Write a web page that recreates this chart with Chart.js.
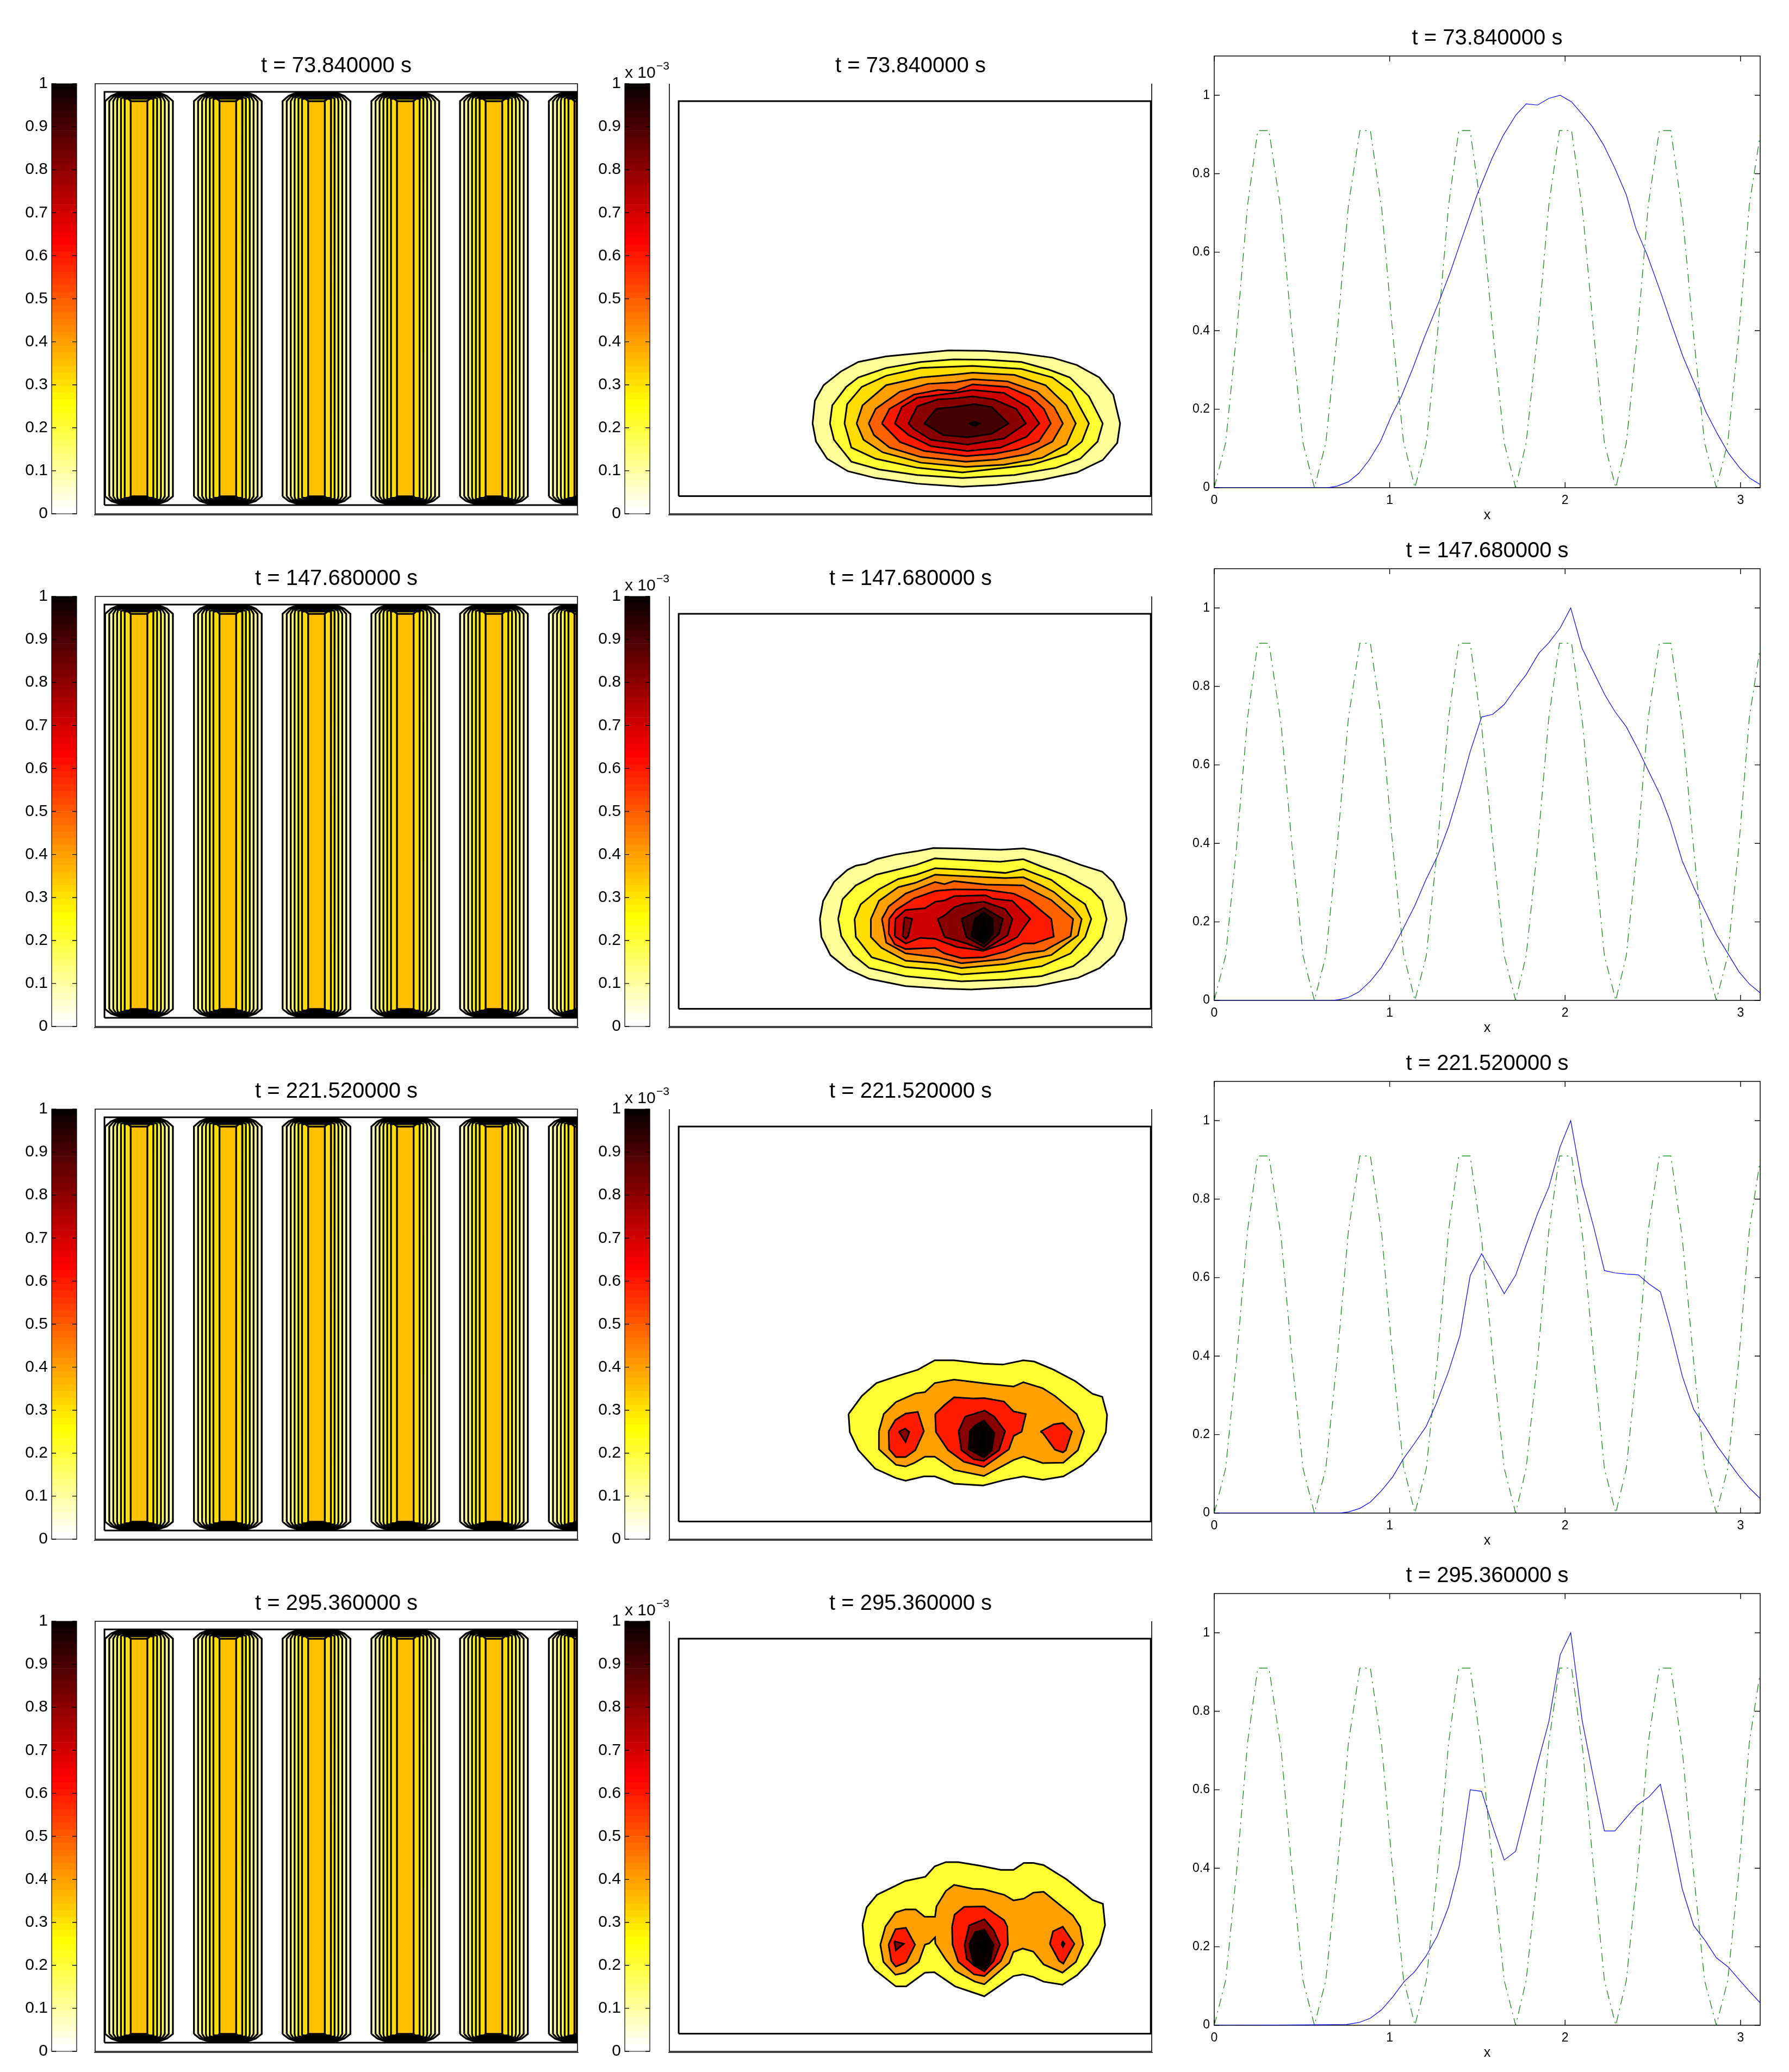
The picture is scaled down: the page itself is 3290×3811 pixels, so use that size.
<!DOCTYPE html>
<html>
<head>
<meta charset="utf-8">
<title>Contours and profiles</title>
<script src="https://cdn.jsdelivr.net/npm/chart.js@4"></script>
<style>
  html, body { margin: 0; background: #fff; }
  #page { position: relative; width: 3290px; height: 3811px; overflow: hidden; background: #fff; }
  canvas { position: absolute; }
</style>
</head>
<body>
<div id="page"></div>
<script>
// --- data ---
const titles = ['t = 73.840000 s', 't = 147.680000 s', 't = 221.520000 s', 't = 295.360000 s'];
const barTicks = [0, 0.1, 0.2, 0.3, 0.4, 0.5, 0.6, 0.7, 0.8, 0.9, 1];
const lineXTicks = [0, 1, 2, 3];
const lineYTicks = [0, 0.2, 0.4, 0.6, 0.8, 1];

// reversed "hot" colour map, bottom of the bar first
const hotColors = [
  '#ffffff', '#ffffef', '#ffffdf', '#ffffcf', '#ffffbf', '#ffffaf', '#ffff9f', '#ffff8f',
  '#ffff80', '#ffff70', '#ffff60', '#ffff50', '#ffff40', '#ffff30', '#ffff20', '#ffff10',
  '#ffff00', '#fff400', '#ffea00', '#ffdf00', '#ffd500', '#ffca00', '#ffbf00', '#ffb500',
  '#ffaa00', '#ff9f00', '#ff9500', '#ff8a00', '#ff8000', '#ff7500', '#ff6a00', '#ff6000',
  '#ff5500', '#ff4a00', '#ff4000', '#ff3500', '#ff2a00', '#ff2000', '#ff1500', '#ff0b00',
  '#ff0000', '#f40000', '#ea0000', '#df0000', '#d50000', '#ca0000', '#bf0000', '#b50000',
  '#aa0000', '#9f0000', '#950000', '#8a0000', '#800000', '#750000', '#6a0000', '#600000',
  '#550000', '#4a0000', '#400000', '#350000', '#2a0000', '#200000', '#150000', '#0b0000'
];

// green reference curve on the right hand plots
const shapeX = [0, .065, .127, .19, .248, .312, .381, .444, .506, .571, .636, .7, .765, .83, .89, .955, 1.018, 1.078, 1.144,
  1.209, 1.272, 1.336, 1.394, 1.459, 1.524, 1.59, 1.653, 1.718, 1.778, 1.843, 1.907, 1.968, 2.037, 2.101, 2.164, 2.224, 2.289,
  2.349, 2.412, 2.474, 2.537, 2.603, 2.668, 2.732, 2.795, 2.862, 2.927, 2.99, 3.05, 3.112];
const shapeY = [0, .114, .39, .72, .91, .91, .704, .39, .114, 0, .114, .39, .72, .91, .91, .71, .39, .12, 0,
  .114, .39, .72, .91, .91, .7, .39, .114, 0, .114, .39, .72, .91, .91, .7, .39, .114, 0,
  .114, .39, .72, .91, .91, .7, .39, .114, 0, .114, .39, .72, .9];

// blue profile, one x/y pair of lists per row
const profileX1 = [0, .647, .7, .765, .825, .884, .948, 1.013, 1.067, 1.131, 1.196, 1.282, 1.347, 1.412, 1.498, 1.584, 1.649, 1.72,
  1.778, 1.843, 1.907, 1.972, 2.037, 2.101, 2.155, 2.22, 2.284, 2.349, 2.403, 2.468, 2.543, 2.608, 2.672, 2.748, 2.802, 2.866, 2.931, 2.996, 3.05, 3.112];
const profileY1 = [0, 0, .004, .015, .037, .071, .118, .186, .233, .303, .381, .475, .551, .636, .746, .84, .899, .95,
  .978, .975, .992, 1, .983, .95, .92, .873, .814, .746, .661, .593, .5, .415, .334, .254, .194, .139, .088, .05, .025, .008];
const profileX2 = [0, .675, .711, .761, .823, .89, .953, 1.017, 1.078, 1.142, 1.207, 1.272, 1.336, 1.401, 1.459, 1.524, 1.588, 1.653, 1.724,
  1.778, 1.851, 1.907, 1.972, 2.032, 2.097, 2.162, 2.226, 2.284, 2.349, 2.418, 2.478, 2.543, 2.597, 2.668, 2.733, 2.802, 2.862, 2.927, 2.991, 3.05, 3.112];
const profileY2 = [0, 0, .002, .007, .021, .049, .084, .132, .184, .24, .308, .367, .443, .539, .634, .722, .729, .754, .799,
  .83, .885, .911, .949, 1, .897, .837, .779, .736, .697, .638, .582, .523, .459, .355, .288, .224, .168, .12, .073, .042, .019];
const profileX3 = [0, .711, .765, .83, .89, .953, 1.017, 1.078, 1.142, 1.207, 1.265, 1.336, 1.401, 1.459, 1.524, 1.588, 1.653, 1.718,
  1.778, 1.843, 1.907, 1.972, 2.032, 2.097, 2.162, 2.224, 2.284, 2.349, 2.418, 2.478, 2.543, 2.597, 2.668, 2.733, 2.802, 2.862, 2.927, 2.991, 3.05, 3.112];
const profileY3 = [0, 0, .003, .012, .028, .057, .092, .138, .178, .22, .278, .361, .453, .605, .661, .612, .559, .606,
  .683, .763, .83, .934, 1, .838, .731, .618, .612, .609, .607, .584, .564, .477, .349, .264, .218, .174, .134, .095, .064, .037];
const profileX4 = [0, .485, .754, .825, .89, .953, 1.017, 1.084, 1.142, 1.207, 1.272, 1.336, 1.397, 1.459, 1.524, 1.588, 1.653, 1.718,
  1.778, 1.843, 1.907, 1.972, 2.032, 2.097, 2.162, 2.224, 2.284, 2.349, 2.409, 2.478, 2.543, 2.597, 2.668, 2.733, 2.798, 2.862, 2.931, 3, 3.056, 3.112];
const profileY4 = [0, .001, .002, .007, .018, .039, .072, .112, .136, .176, .228, .302, .407, .6, .596, .506, .421, .443,
  .55, .666, .773, .944, 1, .777, .63, .495, .495, .529, .56, .582, .614, .506, .347, .254, .216, .172, .148, .112, .084, .057];

// rods in the left hand panels: centres, nested half widths, top and bottom of each nested contour
const rodCentres = [.283, .856, 1.428, 2.001, 2.573, 3.146];
const rodHalfWidths = [.2186, .1919, .166, .1414, .1168, .0923, .0537];
const rodCapHalfWidths = [.125, .122, .119, .116, .1, .08, .05];
const rodTops = [.9798, .977, .974, .971, .968, .965, .9595];
const rodBottoms = [.0228, .0255, .028, .031, .034, .037, .0405];
const rodShoulders = [.0405, .9595];
const rodLevels = [0, 1, 2, 3, 4, 5, 6];

// walls, left hand and middle panels: [x0, y0, x1, y1]
const coreBox = [.06, .0202, 3.106, .981];
const fluxBox = [.06, .0411, 3.106, .9595];

// filled contours in the middle panels, outermost first: [x, y] vertices and the level of each
const row1Levels = [7, 8, 9, 10, 11, 12, 13, 14, 15, 16];
const row1Contours = [
  [[.924,.21],[.939,.263],[.995,.299],[1.107,.331],[1.219,.353],[1.398,.366],[1.599,.373],[1.801,.38],[2.036,.379],[2.248,.374],[2.472,.363],[2.629,.346],[2.774,.317],[2.864,.277],[2.908,.21],[2.89,.165],[2.796,.125],[2.629,.096],[2.405,.079],[2.114,.067],[1.89,.063],[1.599,.07],[1.331,.083],[1.152,.099],[1.018,.128],[.946,.168]],
  [[1.036,.21],[1.051,.252],[1.141,.295],[1.219,.317],[1.398,.339],[1.622,.353],[1.834,.359],[2.047,.358],[2.271,.353],[2.45,.335],[2.584,.317],[2.707,.273],[2.796,.21],[2.763,.168],[2.651,.128],[2.495,.107],[2.226,.09],[1.89,.083],[1.599,.09],[1.353,.103],[1.174,.121],[1.062,.172]],
  [[1.13,.21],[1.147,.255],[1.241,.295],[1.398,.321],[1.622,.339],[1.957,.344],[2.271,.337],[2.472,.317],[2.595,.284],[2.707,.21],[2.662,.168],[2.562,.139],[2.338,.114],[1.89,.096],[1.599,.107],[1.331,.128],[1.174,.154]],
  [[1.208,.21],[1.246,.252],[1.398,.299],[1.622,.317],[1.846,.324],[1.957,.328],[2.226,.323],[2.427,.299],[2.562,.252],[2.622,.21],[2.562,.161],[2.405,.13],[2.159,.114],[1.913,.109],[1.622,.119],[1.376,.143],[1.253,.172]],
  [[1.286,.21],[1.331,.244],[1.487,.284],[1.666,.302],[1.846,.306],[1.957,.313],[2.181,.308],[2.371,.284],[2.483,.248],[2.539,.21],[2.472,.168],[2.315,.139],[2.114,.126],[1.913,.121],[1.622,.132],[1.42,.154],[1.32,.183]],
  [[1.371,.21],[1.42,.244],[1.577,.277],[1.734,.288],[1.846,.286],[1.957,.301],[2.181,.295],[2.327,.273],[2.416,.244],[2.461,.21],[2.383,.168],[2.248,.15],[2.092,.139],[1.913,.134],[1.644,.146],[1.487,.167]],
  [[1.454,.21],[1.499,.248],[1.599,.27],[1.834,.281],[1.957,.288],[2.159,.281],[2.315,.248],[2.387,.21],[2.304,.179],[2.136,.154],[1.924,.146],[1.689,.157],[1.543,.183]],
  [[1.543,.21],[1.599,.25],[1.734,.266],[1.834,.268],[1.957,.273],[2.092,.266],[2.237,.244],[2.3,.21],[2.159,.175],[1.924,.161],[1.689,.172],[1.577,.197]],
  [[1.644,.21],[1.722,.244],[1.834,.248],[1.969,.255],[2.08,.248],[2.188,.21],[2.08,.186],[1.924,.178],[1.767,.183]],
  [[1.935,.21],[1.969,.214],[2.002,.21],[1.969,.204]]
];

const row2Levels = [7, 8, 9, 10, 11, 12, 13, 14, 14, 15, 16, 17];
const row2Contours = [
  [[.971,.25],[.992,.292],[1.062,.336],[1.148,.364],[1.203,.374],[1.266,.378],[1.336,.389],[1.462,.4],[1.603,.408],[1.704,.415],[1.869,.414],[2.135,.411],[2.284,.414],[2.354,.41],[2.511,.395],[2.652,.376],[2.793,.36],[2.863,.336],[2.934,.288],[2.95,.25],[2.926,.204],[2.871,.166],[2.777,.136],[2.636,.113],[2.37,.094],[2.166,.09],[1.947,.086],[1.775,.088],[1.524,.094],[1.289,.111],[1.148,.134],[1.039,.166],[.981,.208]],
  [[1.089,.25],[1.117,.296],[1.203,.328],[1.336,.353],[1.462,.364],[1.595,.376],[1.712,.391],[1.931,.387],[2.135,.383],[2.284,.389],[2.401,.372],[2.558,.351],[2.722,.319],[2.793,.292],[2.821,.25],[2.793,.208],[2.699,.166],[2.605,.14],[2.401,.117],[2.166,.109],[1.884,.105],[1.759,.109],[1.524,.117],[1.289,.136],[1.187,.166],[1.109,.21]],
  [[1.195,.25],[1.234,.284],[1.352,.319],[1.477,.343],[1.595,.353],[1.715,.368],[1.931,.364],[2.166,.357],[2.284,.366],[2.464,.341],[2.605,.303],[2.683,.284],[2.722,.25],[2.683,.208],[2.589,.17],[2.401,.14],[2.166,.128],[1.884,.121],[1.728,.132],[1.524,.138],[1.305,.161],[1.203,.208]],
  [[1.3,.25],[1.352,.292],[1.477,.324],[1.587,.334],[1.715,.353],[1.931,.349],[2.166,.345],[2.284,.347],[2.401,.328],[2.48,.313],[2.605,.275],[2.66,.25],[2.636,.212],[2.464,.166],[2.284,.153],[2.166,.145],[1.884,.136],[1.728,.147],[1.524,.153],[1.368,.183],[1.3,.208]],
  [[1.371,.25],[1.415,.279],[1.524,.309],[1.715,.336],[1.775,.331],[1.837,.338],[2.041,.33],[2.284,.328],[2.37,.311],[2.464,.294],[2.605,.25],[2.589,.21],[2.417,.176],[2.284,.17],[2.166,.157],[1.884,.147],[1.728,.161],[1.524,.17],[1.399,.195]],
  [[1.418,.25],[1.462,.271],[1.579,.298],[1.715,.315],[1.837,.319],[2.041,.318],[2.221,.309],[2.323,.292],[2.464,.25],[2.48,.209],[2.354,.193],[2.284,.193],[2.166,.174],[2.025,.161],[1.884,.159],[1.775,.17],[1.712,.183],[1.524,.18],[1.454,.191],[1.415,.216]],
  [[1.454,.21],[1.458,.25],[1.524,.271],[1.649,.275],[1.715,.29],[1.775,.293],[1.837,.303],[2.041,.305],[2.088,.297],[2.213,.292],[2.328,.25],[2.284,.229],[2.245,.208],[2.166,.193],[2.025,.176],[1.853,.185],[1.712,.204],[1.618,.206],[1.524,.193]],
  [[1.516,.254],[1.566,.25],[1.54,.21],[1.524,.204],[1.505,.21]],
  [[1.731,.25],[1.775,.258],[1.837,.277],[1.9,.285],[2.029,.29],[2.166,.273],[2.213,.25],[2.182,.212],[2.088,.191],[2.029,.178],[1.9,.195],[1.775,.208]],
  [[1.884,.25],[2.029,.276],[2.151,.25],[2.127,.216],[2.029,.185],[1.916,.208]],
  [[1.971,.25],[2.029,.265],[2.085,.25],[2.088,.216],[2.029,.193],[1.947,.21]],
  [[2.029,.248],[2.065,.204],[2.029,.195],[1.986,.204]]
];

const row3Levels = [8, 10, 12, 14, 12, 14, 16, 17, 12];
const row3Contours = [
  [[1.156,.291],[1.242,.333],[1.336,.363],[1.477,.38],[1.603,.394],[1.712,.416],[1.837,.416],[2.025,.408],[2.151,.406],[2.284,.416],[2.354,.413],[2.48,.394],[2.621,.367],[2.73,.338],[2.793,.331],[2.824,.289],[2.816,.249],[2.762,.207],[2.668,.173],[2.542,.146],[2.409,.138],[2.284,.146],[2.166,.138],[2.025,.125],[1.837,.129],[1.712,.146],[1.642,.146],[1.524,.136],[1.462,.142],[1.328,.164],[1.219,.207],[1.164,.249]],
  [[1.352,.251],[1.383,.291],[1.462,.319],[1.587,.339],[1.649,.342],[1.712,.363],[1.837,.371],[2.088,.36],[2.221,.355],[2.284,.365],[2.409,.351],[2.488,.333],[2.628,.291],[2.676,.251],[2.636,.207],[2.542,.178],[2.409,.177],[2.284,.192],[2.221,.184],[2.029,.147],[1.837,.161],[1.712,.192],[1.649,.192],[1.579,.177],[1.524,.169],[1.462,.173],[1.352,.209]],
  [[1.415,.251],[1.458,.277],[1.524,.292],[1.603,.296],[1.642,.251],[1.587,.207],[1.524,.191],[1.462,.191],[1.418,.209]],
  [[1.48,.25],[1.521,.257],[1.548,.249],[1.524,.226]],
  [[1.715,.291],[1.775,.312],[1.837,.33],[1.963,.327],[2.033,.328],[2.159,.32],[2.221,.297],[2.3,.291],[2.273,.25],[2.221,.24],[2.19,.209],[2.029,.168],[1.9,.18],[1.798,.207],[1.72,.249]],
  [[1.908,.285],[2.033,.299],[2.096,.285],[2.166,.251],[2.127,.207],[2.029,.182],[1.963,.186],[1.884,.207],[1.866,.251]],
  [[1.939,.251],[1.971,.264],[2.029,.276],[2.096,.247],[2.08,.207],[2.029,.19],[1.931,.209]],
  [[2.025,.255],[2.041,.25],[2.038,.205],[2.002,.208],[2.01,.25]],
  [[2.394,.25],[2.48,.267],[2.539,.27],[2.597,.25],[2.558,.207],[2.539,.202],[2.488,.208],[2.409,.247]]
];

const row4Levels = [8, 10, 12, 14, 12, 14, 16, 17, 12, 17];
const row4Contours = [
  [[1.246,.295],[1.273,.335],[1.34,.364],[1.522,.396],[1.652,.406],[1.712,.43],[1.784,.44],[1.864,.44],[1.998,.432],[2.139,.422],[2.22,.422],[2.287,.438],[2.348,.438],[2.415,.433],[2.562,.4],[2.73,.352],[2.797,.343],[2.811,.293],[2.777,.248],[2.697,.202],[2.63,.177],[2.536,.155],[2.415,.162],[2.348,.173],[2.28,.179],[2.22,.175],[2.032,.128],[1.844,.151],[1.71,.184],[1.649,.183],[1.528,.151],[1.461,.151],[1.327,.189],[1.287,.208],[1.257,.248]],
  [[1.361,.248],[1.394,.29],[1.459,.323],[1.522,.33],[1.589,.33],[1.647,.313],[1.714,.313],[1.723,.337],[1.784,.373],[1.837,.387],[1.958,.378],[2.025,.377],[2.16,.364],[2.22,.351],[2.287,.355],[2.348,.369],[2.415,.371],[2.603,.316],[2.65,.29],[2.67,.248],[2.623,.208],[2.536,.183],[2.415,.202],[2.348,.232],[2.28,.239],[2.22,.231],[2.193,.206],[2.032,.156],[1.972,.162],[1.844,.187],[1.784,.213],[1.716,.251],[1.714,.265],[1.676,.251],[1.649,.248],[1.609,.208],[1.522,.183],[1.459,.178],[1.381,.208]],
  [[1.414,.248],[1.459,.284],[1.526,.287],[1.585,.248],[1.528,.207],[1.461,.197],[1.432,.21]],
  [[1.451,.256],[1.512,.25],[1.461,.235]],
  [[1.824,.29],[1.84,.318],[1.902,.336],[2.032,.337],[2.16,.305],[2.18,.29],[2.184,.248],[2.139,.21],[2.032,.175],[1.965,.179],[1.864,.208],[1.827,.248]],
  [[1.904,.248],[1.935,.293],[2.032,.307],[2.092,.282],[2.133,.248],[2.092,.21],[2.032,.186],[1.965,.2],[1.918,.215]],
  [[1.934,.248],[1.972,.277],[2.032,.283],[2.092,.248],[2.066,.206],[2.032,.192],[1.965,.2]],
  [[1.982,.248],[2.032,.257],[2.055,.248],[2.032,.223]],
  [[2.455,.25],[2.475,.279],[2.538,.29],[2.613,.25],[2.542,.204],[2.515,.21]],
  [[2.529,.25],[2.539,.255],[2.55,.25],[2.539,.243]]
];

// --- styles and layout ---
const FONT = '"Liberation Sans", Arial, sans-serif';
const rodFills = ['#ffffc4', '#ffff9a', '#ffff66', '#ffff33', '#ffee00', '#ffdd00', '#ffc000'];
const levelFills = { 7: '#ffff99', 8: '#ffff33', 9: '#ffdd00', 10: '#ffa000', 11: '#ff6000', 12: '#ff1a00', 13: '#cc0000', 14: '#880000', 15: '#440000', 16: '#0a0000', 17: '#000000' };
const ROW_STEP = 942.8;
const page = document.getElementById('page');

Chart.defaults.font.family = FONT;
Chart.defaults.color = '#000';

function drawFrame(chart, opts) {
  const { ctx, chartArea: a, scales } = chart;
  ctx.save();
  ctx.strokeStyle = '#000';
  ctx.lineWidth = opts.lineWidth || 1.6;
  ctx.beginPath();
  ctx.moveTo(a.left, a.top);
  ctx.lineTo(a.left, a.bottom);
  ctx.lineTo(a.right, a.bottom);
  ctx.lineTo(a.right, a.top);
  if (!opts.openTop) ctx.closePath();
  ctx.stroke();
  if (opts.doubleBase) {
    ctx.beginPath();
    ctx.moveTo(a.left - 2, a.bottom + 2);
    ctx.lineTo(a.right + 2, a.bottom + 2);
    ctx.stroke();
  }
  if (opts.tickLength) {
    ctx.lineWidth = 1.4;
    ctx.beginPath();
    if (scales.y.options.display) {
      scales.y.ticks.forEach(t => {
        const p = scales.y.getPixelForValue(t.value);
        ctx.moveTo(a.left, p); ctx.lineTo(a.left + opts.tickLength, p);
        ctx.moveTo(a.right, p); ctx.lineTo(a.right - opts.tickLength, p);
      });
    }
    if (scales.x.options.display && scales.x.type === 'linear') {
      scales.x.ticks.forEach(t => {
        const p = scales.x.getPixelForValue(t.value);
        ctx.moveTo(p, a.bottom); ctx.lineTo(p, a.bottom - opts.tickLength);
        ctx.moveTo(p, a.top); ctx.lineTo(p, a.top + opts.tickLength);
      });
    }
    ctx.stroke();
  }
  ctx.restore();
}

// Box round the plot with ticks pointing inwards, taken from the scales
const frameTicks = {
  id: 'frameTicks',
  beforeDatasetsDraw(chart, args, opts) { if (opts.under) drawFrame(chart, opts); },
  afterDraw(chart, args, opts) { if (!opts.under) drawFrame(chart, opts); }
};

// "x 10^-3" over the second colour bar
const exponentLabel = {
  id: 'exponentLabel',
  afterDraw(chart) {
    const { ctx, chartArea: a } = chart;
    ctx.save();
    ctx.fillStyle = '#000';
    ctx.textBaseline = 'alphabetic';
    ctx.font = '30px ' + FONT;
    ctx.fillText('x 10', a.left, a.top - 11);
    ctx.font = '21px ' + FONT;
    ctx.fillText('\u22123', a.left + 58, a.top - 26);
    ctx.restore();
  }
};

function addCanvas(left, top, width, height) {
  const c = document.createElement('canvas');
  c.width = width;
  c.height = height;
  c.style.left = left + 'px';
  c.style.top = top + 'px';
  c.style.width = width + 'px';
  c.style.height = height + 'px';
  page.appendChild(c);
  return c;
}

const baseOptions = {
  animation: false,
  responsive: false,
  devicePixelRatio: 1,
  events: []
};

function colorBar(barLeft, rowTop, withExponent) {
  const barWidth = 46, axisWidth = 90, headroom = withExponent ? 70 : 30;
  const roomRight = withExponent ? 100 : 4;
  const canvas = addCanvas(barLeft - axisWidth, rowTop - headroom, axisWidth + barWidth + roomRight, 791 + headroom + 30);
  new Chart(canvas, {
    type: 'bar',
    data: {
      labels: [''],
      datasets: hotColors.map(color => ({ data: [1 / hotColors.length], backgroundColor: color, barPercentage: 1, categoryPercentage: 1 }))
    },
    options: {
      ...baseOptions,
      layout: { padding: { top: headroom, bottom: 30, left: 0, right: roomRight } },
      plugins: { legend: { display: false }, tooltip: { enabled: false }, frameTicks: { tickLength: 8, lineWidth: 1.2 } },
      scales: {
        x: { display: false, stacked: true },
        y: {
          stacked: true, min: 0, max: 1,
          grid: { display: false, drawTicks: false }, border: { display: false },
          afterBuildTicks: s => { s.ticks = barTicks.map(value => ({ value })); },
          afterFit: s => { s.width = axisWidth; },
          ticks: { font: { size: 30 }, padding: 7, callback: v => String(v) }
        }
      }
    },
    plugins: withExponent ? [frameTicks, exponentLabel] : [frameTicks]
  });
}

function closed(points) {
  return points.concat([points[0]]).map(([x, y]) => ({ x, y }));
}

function outline(points, fillColor, width) {
  return {
    data: closed(points), showLine: true, fill: fillColor ? 'shape' : false,
    backgroundColor: fillColor || 'transparent', borderColor: '#000', borderWidth: width,
    pointRadius: 0, borderJoinStyle: 'miter', tension: 0, clip: 0
  };
}

function wall(box) {
  const [x0, y0, x1, y1] = box;
  return outline([[x0, y0], [x0, y1], [x1, y1], [x1, y0]], null, 3);
}

function rodPolygon(centre, k) {
  const h = rodHalfWidths[k], cap = rodCapHalfWidths[k];
  return [
    [centre - h, rodShoulders[0]], [centre - h, rodShoulders[1]],
    [centre - (h + cap) / 2 - .008, (rodShoulders[1] + rodTops[k]) / 2 + .002],
    [centre - cap, rodTops[k]], [centre + cap, rodTops[k]],
    [centre + (h + cap) / 2 + .008, (rodShoulders[1] + rodTops[k]) / 2 + .002],
    [centre + h, rodShoulders[1]], [centre + h, rodShoulders[0]],
    [centre + (h + cap) / 2 + .008, (rodShoulders[0] + rodBottoms[k]) / 2 - .002],
    [centre + cap, rodBottoms[k]], [centre - cap, rodBottoms[k]],
    [centre - (h + cap) / 2 - .008, (rodShoulders[0] + rodBottoms[k]) / 2 - .002]
  ];
}

function panel(left, rowTop, title, datasets, openTop) {
  const plotWidth = 887, plotHeight = 791;
  const canvas = addCanvas(left - 4, rowTop - 60, plotWidth + 8, plotHeight + 60 + 6);
  new Chart(canvas, {
    type: 'scatter',
    data: { datasets },
    options: {
      ...baseOptions,
      layout: { padding: { left: 4, right: 4, bottom: 6, top: 0 } },
      plugins: {
        legend: { display: false }, tooltip: { enabled: false },
        title: { display: true, text: title, color: '#000', font: { size: 40, weight: 'normal' }, padding: { top: 4, bottom: 8 } },
        frameTicks: { doubleBase: true, lineWidth: 1.6, openTop }
      },
      scales: {
        x: { display: false, type: 'linear', min: 0, max: 3.112 },
        y: { display: false, type: 'linear', min: 0, max: 1 }
      }
    },
    plugins: [frameTicks]
  });
}

function linePlot(plotTop, title, xs, ys) {
  const left = 2233, plotWidth = 1004, plotHeight = 794, axisWidth = 80, xAxisHeight = 66, roomRight = 10;
  const canvas = addCanvas(left - axisWidth, plotTop - 58, axisWidth + plotWidth + roomRight, 58 + plotHeight + xAxisHeight);
  const line = (px, py, color, dash, width) => ({
    data: px.map((x, i) => ({ x, y: py[i] })), showLine: true, fill: false,
    borderColor: color, borderDash: dash, borderWidth: width, pointRadius: 0, tension: 0, clip: 0
  });
  new Chart(canvas, {
    type: 'scatter',
    data: {
      datasets: [
        line(xs, ys, '#0000ff', [], 1.2),
        line(shapeX, shapeY, '#008000', [16, 8, 3, 8], 1.2)
      ]
    },
    options: {
      ...baseOptions,
      layout: { padding: { left: 0, right: roomRight, bottom: 0, top: 0 } },
      plugins: {
        legend: { display: false }, tooltip: { enabled: false },
        // fullSize off so the title centres over the plot, not over the axis labels too
        title: { display: true, fullSize: false, text: title, color: '#000', font: { size: 40, weight: 'normal' }, padding: { top: 2, bottom: 8 } },
        frameTicks: { tickLength: 10, lineWidth: 1.5, under: true }
      },
      scales: {
        x: {
          type: 'linear', min: 0, max: 3.112,
          grid: { display: false, drawTicks: false }, border: { display: false },
          afterBuildTicks: s => { s.ticks = lineXTicks.map(value => ({ value })); },
          afterFit: s => { s.height = xAxisHeight; },
          ticks: { font: { size: 23 }, padding: 10, maxRotation: 0, autoSkip: false, callback: v => String(v) },
          title: { display: true, text: 'x', color: '#000', font: { size: 25 }, padding: 0 }
        },
        y: {
          type: 'linear', min: 0, max: 1.1,
          grid: { display: false, drawTicks: false }, border: { display: false },
          afterBuildTicks: s => { s.ticks = lineYTicks.map(value => ({ value })); },
          afterFit: s => { s.width = axisWidth; },
          ticks: { font: { size: 23 }, padding: 8, callback: v => String(v) }
        }
      }
    },
    plugins: [frameTicks]
  });
}

// --- build the four rows ---
const rowContours = [row1Contours, row2Contours, row3Contours, row4Contours];
const rowLevels = [row1Levels, row2Levels, row3Levels, row4Levels];
const profiles = [[profileX1, profileY1], [profileX2, profileY2], [profileX3, profileY3], [profileX4, profileY4]];

titles.forEach((title, r) => {
  const rowTop = Math.round(154 + ROW_STEP * r);

  colorBar(95, rowTop, false);
  colorBar(1149, rowTop, true);

  // datasets draw last-to-first, so the inner marks come first in the list
  const rods = [wall(coreBox)];
  rodCentres.forEach(c => {
    rodLevels.slice().reverse().forEach(k => rods.push(outline(rodPolygon(c, k), rodFills[k], 3.3)));
  });
  panel(175, rowTop, title, rods, false);

  const flux = [wall(fluxBox)];
  rowContours[r].slice().reverse().forEach((pts, i) => {
    const level = rowLevels[r][rowContours[r].length - 1 - i];
    flux.push(outline(pts, levelFills[level], 3));
  });
  panel(1231, rowTop, title, flux, true);

  linePlot(Math.round(103 + ROW_STEP * r), title, profiles[r][0], profiles[r][1]);
});
</script>
</body>
</html>
